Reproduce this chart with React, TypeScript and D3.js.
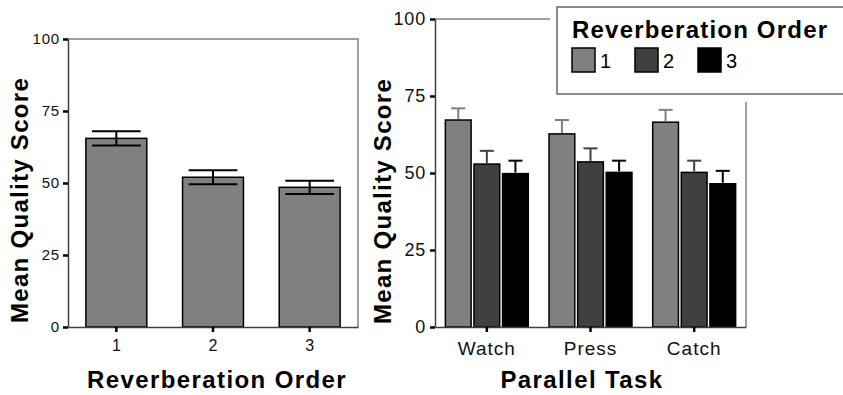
import React, { useEffect, useRef } from 'react';
import * as d3 from 'd3';

// left panel: main effect of reverberation order
const orderLabels = ['1', '2', '3'];
const orderMeans = [65.5, 52, 48.5];
const orderErrors = [2.5, 2.4, 2.3];

// right panel: parallel task x reverberation order
const tasks = ['Watch', 'Press', 'Catch'];
const order1Means = [67.2, 62.7, 66.5];
const order2Means = [52.9, 53.6, 50.2];
const order3Means = [49.8, 50.2, 46.5];
const order1Errors = [3.8, 4.5, 4.0];
const order2Errors = [4.3, 4.4, 3.8];
const order3Errors = [4.2, 3.8, 4.2];

const yTicks = [0, 25, 50, 75, 100];
const orderColors = ['#808080', '#404040', '#000000'];

const FONT = '"Liberation Sans", Arial, sans-serif';

const App = () => {
  const svgRef = useRef<SVGSVGElement>(null);

  useEffect(() => {
    const svg = d3.select(svgRef.current);
    svg.selectAll('*').remove();
    svg.append('rect').attr('width', 843).attr('height', 395).attr('fill', '#fff');

    // ---------- left panel ----------
    const L = { left: 68, right: 358, top: 39, bottom: 327 };
    const xL = d3.scaleBand().domain(orderLabels).range([L.left, L.right]).paddingInner(0.37).paddingOuter(0.185);
    const yL = d3.scaleLinear().domain([0, 100]).range([L.bottom, L.top]);
    const left = svg.append('g');

    // frame (top + right)
    left.append('path')
      .attr('d', `M${L.left},${L.top}H${L.right}V${L.bottom}`)
      .attr('fill', 'none').attr('stroke', '#808080').attr('stroke-width', 1.5);

    left.selectAll('.bar')
      .data(orderMeans)
      .enter().append('rect')
      .attr('x', (d, i) => xL(orderLabels[i])!)
      .attr('y', d => yL(d))
      .attr('width', xL.bandwidth())
      .attr('height', d => yL(0) - yL(d))
      .attr('fill', '#808080')
      .attr('stroke', '#000')
      .attr('stroke-width', 1.5);

    const capL = xL.bandwidth() * 0.8;
    orderMeans.forEach((m, i) => {
      const cx = xL(orderLabels[i])! + xL.bandwidth() / 2;
      const e = orderErrors[i];
      const g = left.append('g').attr('stroke', '#000').attr('stroke-width', 2);
      g.append('line').attr('x1', cx).attr('x2', cx).attr('y1', yL(m + e)).attr('y2', yL(m - e));
      g.append('line').attr('x1', cx - capL / 2).attr('x2', cx + capL / 2).attr('y1', yL(m + e)).attr('y2', yL(m + e));
      g.append('line').attr('x1', cx - capL / 2).attr('x2', cx + capL / 2).attr('y1', yL(m - e)).attr('y2', yL(m - e));
    });

    const yAxisL = left.append('g')
      .attr('transform', `translate(${L.left},0)`)
      .call(d3.axisLeft(yL).tickValues(yTicks).tickSize(5).tickSizeOuter(0).tickPadding(3));
    const xAxisL = left.append('g')
      .attr('transform', `translate(0,${L.bottom})`)
      .call(d3.axisBottom(xL).tickSize(5).tickSizeOuter(0).tickPadding(8));
    yAxisL.selectAll('text').style('font-size', '15px').style('letter-spacing', '0.8px');
    xAxisL.selectAll('text').style('font-size', '16px');

    left.append('text')
      .attr('transform', `translate(28,200) rotate(-90)`)
      .attr('text-anchor', 'middle')
      .style('font-size', '24px').style('font-weight', 'bold').style('letter-spacing', '1.3px')
      .text('Mean Quality Score');
    left.append('text')
      .attr('x', 217).attr('y', 388)
      .attr('text-anchor', 'middle')
      .style('font-size', '24px').style('font-weight', 'bold').style('letter-spacing', '1.4px')
      .text('Reverberation Order');

    // ---------- right panel ----------
    const R = { left: 435, right: 746, top: 19, bottom: 327 };
    const xR = d3.scaleBand().domain(tasks).range([R.left, R.right]).paddingInner(0.2).paddingOuter(0.1);
    const xSub = d3.scaleBand().domain(orderLabels).range([0, xR.bandwidth()]).paddingInner(0.1);
    const yR = d3.scaleLinear().domain([0, 100]).range([R.bottom, R.top]);
    const right = svg.append('g');

    right.append('path')
      .attr('d', `M${R.left},${R.top}H${R.right}V${R.bottom}`)
      .attr('fill', 'none').attr('stroke', '#808080').attr('stroke-width', 1.5);

    const series = [
      { means: order1Means, errors: order1Errors },
      { means: order2Means, errors: order2Errors },
      { means: order3Means, errors: order3Errors },
    ];

    series.forEach((s, k) => {
      const g = right.append('g');
      g.selectAll('rect')
        .data(s.means)
        .enter().append('rect')
        .attr('x', (d, i) => xR(tasks[i])! + xSub(orderLabels[k])!)
        .attr('y', d => yR(d))
        .attr('width', xSub.bandwidth())
        .attr('height', d => yR(0) - yR(d))
        .attr('fill', orderColors[k])
        .attr('stroke', '#000')
        .attr('stroke-width', 1.5);
      s.means.forEach((m, i) => {
        const cx = xR(tasks[i])! + xSub(orderLabels[k])! + xSub.bandwidth() / 2;
        const top = yR(m + s.errors[i]);
        const eg = g.append('g').attr('stroke', orderColors[k]).attr('stroke-width', 2);
        eg.append('line').attr('x1', cx).attr('x2', cx).attr('y1', top).attr('y2', yR(m) - 1);
        eg.append('line').attr('x1', cx - 7).attr('x2', cx + 7).attr('y1', top).attr('y2', top);
      });
    });

    const yAxisR = right.append('g')
      .attr('transform', `translate(${R.left},0)`)
      .call(d3.axisLeft(yR).tickValues(yTicks).tickSize(5).tickSizeOuter(0).tickPadding(4));
    const xAxisR = right.append('g')
      .attr('transform', `translate(0,${R.bottom})`)
      .call(d3.axisBottom(xR).tickSize(5).tickSizeOuter(0).tickPadding(10));
    yAxisR.selectAll('text').style('font-size', '18px').style('letter-spacing', '0.8px');
    xAxisR.selectAll('text').style('font-size', '19px').style('letter-spacing', '1px');

    right.append('text')
      .attr('transform', `translate(391,201) rotate(-90)`)
      .attr('text-anchor', 'middle')
      .style('font-size', '24px').style('font-weight', 'bold').style('letter-spacing', '1.3px')
      .text('Mean Quality Score');
    right.append('text')
      .attr('x', 582).attr('y', 388)
      .attr('text-anchor', 'middle')
      .style('font-size', '24px').style('font-weight', 'bold').style('letter-spacing', '1.4px')
      .text('Parallel Task');

    // axis styling shared by both panels
    svg.selectAll('.domain').attr('stroke', '#404040').attr('stroke-width', 1.5);
    svg.selectAll('.tick line').attr('stroke', '#000').attr('stroke-width', 2.5);
    svg.selectAll('.tick text').attr('fill', '#111');

    // ---------- legend ----------
    const legend = svg.append('g');
    legend.append('rect').attr('x', 550).attr('y', 0).attr('width', 300).attr('height', 102).attr('fill', '#fff');
    legend.append('rect')
      .attr('x', 557).attr('y', 7).attr('width', 300).attr('height', 87)
      .attr('fill', '#fff').attr('stroke', '#666').attr('stroke-width', 1.5);
    legend.append('text')
      .attr('x', 572).attr('y', 38)
      .style('font-size', '24px').style('font-weight', 'bold').style('letter-spacing', '1.2px')
      .text('Reverberation Order');
    const swatchX = d3.scalePoint().domain(orderLabels).range([572, 698]);
    const items = legend.selectAll('.item')
      .data(orderLabels)
      .enter().append('g')
      .attr('transform', d => `translate(${swatchX(d)},48)`);
    items.append('rect')
      .attr('width', 23).attr('height', 24)
      .attr('fill', (d, i) => orderColors[i])
      .attr('stroke', '#000').attr('stroke-width', 1.5);
    items.append('text')
      .attr('x', 28).attr('y', 20)
      .style('font-size', '20px')
      .text(d => d);

    svg.selectAll('text').style('font-family', FONT);
  }, []);

  return (
    <svg ref={svgRef} width="843" height="395" style={{ position: 'absolute', left: 0, top: 0 }}></svg>
  );
};

export default App;
